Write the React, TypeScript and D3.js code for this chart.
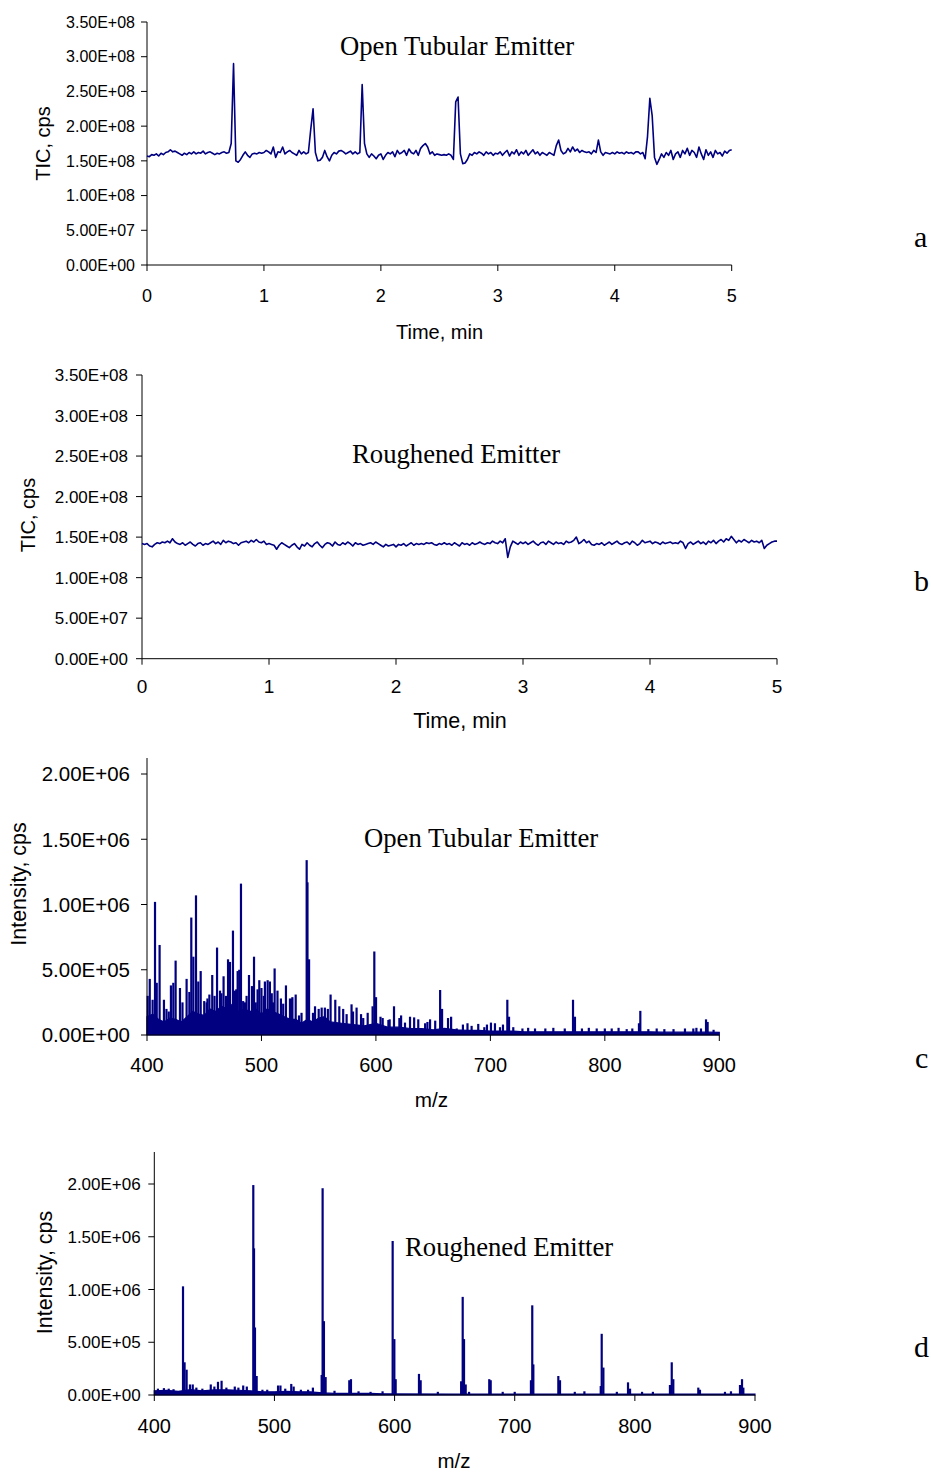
import React from "react";
import * as d3 from "d3";

const NAVY = "#000080";
const SANS = "'Liberation Sans', Arial, sans-serif";
const SERIF = "'Liberation Serif', 'Times New Roman', serif";

// ---------- TIC traces (units of 1e6 cps), one scan every 0.02 min ----------
const ticTimeStep = 0.02;
const ticOpenTubular = [
  157,156,159,158,160,157,161,159,162,163,
  166,163,164,162,160,158,161,159,162,160,
  163,160,162,161,164,160,162,163,161,159,
  161,160,162,163,161,162,175,290,150,148,
  152,158,163,158,155,160,161,160,162,161,
  162,165,163,160,170,155,163,162,170,160,
  163,165,162,160,158,165,160,163,160,162,
  195,225,162,150,151,155,165,156,150,158,
  162,160,164,165,163,160,162,164,160,163,
  160,162,260,175,160,155,160,157,153,158,
  160,152,158,162,160,163,156,165,160,162,
  165,158,167,162,160,165,158,168,172,175,
  170,160,163,158,160,159,158,159,158,160,
  158,152,235,242,160,146,147,152,160,158,
  162,160,163,161,158,163,160,162,158,161,
  160,163,158,162,165,157,163,160,166,158,
  163,160,165,158,162,166,160,163,158,162,
  160,158,162,160,158,172,180,165,160,162,
  168,163,170,164,167,162,165,163,162,163,
  160,165,162,180,163,158,162,161,160,162,
  160,163,161,162,160,163,161,162,160,163,
  163,160,162,153,185,240,215,155,145,152,
  160,155,162,158,165,152,160,163,155,165,
  160,168,158,165,162,155,170,160,152,166,
  158,163,155,165,160,162,157,164,161,165,
  166,
];
const ticRoughened = [
  142,141,142,139,138,141,143,142,144,143,
  145,143,148,144,142,141,143,140,142,144,
  141,139,142,143,140,142,141,143,145,142,
  144,141,146,143,145,144,142,143,140,143,
  144,145,143,146,144,147,144,143,145,141,
  142,141,140,135,140,143,141,139,137,140,
  142,138,135,141,139,143,140,138,142,144,
  140,137,141,143,142,139,144,141,140,143,
  141,144,142,139,143,141,142,140,141,142,
  143,141,144,142,140,138,141,139,140,141,
  138,141,140,142,139,141,143,140,142,141,
  142,141,143,142,143,141,140,142,141,143,
  141,142,140,143,141,139,143,141,142,140,
  143,141,142,144,142,141,143,142,145,143,
  142,145,143,148,125,138,145,143,141,144,
  142,144,141,143,145,142,140,143,144,141,
  145,143,141,144,142,143,141,145,143,144,
  146,150,142,144,147,143,145,141,140,142,
  141,143,140,142,144,141,143,145,142,141,
  143,144,141,145,143,140,142,146,143,144,
  145,142,144,143,141,144,142,143,144,142,
  143,142,145,143,136,142,144,141,143,145,
  142,144,141,145,143,146,142,145,147,144,
  148,146,151,147,143,146,144,147,145,143,
  146,144,145,143,146,136,140,142,144,145,
  145,
];

// ---------- Mass spectra (intensities in units of 1e4 cps) ----------
const openPeakMz = [
  400.6,402.4,404.9,407,408.5,411,414.8,420.9,423,425,428.8,434.6,437,438.7,440.5,442.8,444.8,446.9,
  452.1,454.5,457,461.2,463.8,466.9,470.8,472.5,475.1,476.9,479.2,480.6,482.1,485.6,489.1,491.7,493.5,
  496.6,498.1,503,505.4,507.4,511.5,514,521.4,524.9,526.7,529.9,532.8,539.5,540.2,541.6,546.8,552.6,
  555.4,560.4,564.5,571.4,574.4,578.7,583.1,588.9,592.8,597.1,598.6,600.1,605.9,610.9,615.8,620.5,
  625.4,629.8,633.4,643,647.3,651.8,656.1,657.8,665.7,670.6,683.6,689.4,694.7,700.5,708.4,714.8,716.3,
  739,772.2,773.9,792.9,806,819.1,829.8,831,845.3,877.3,888.4,889.8,
  417,419,431,450,452.8,459,465,469,478,484,487,495,500,502,509,510,517,519,527,535,545,550,558,568,
  580,587,604,612,622,637,645,663,676,680,697,704,711,720,728,733,748,755,765,780,786,800,812,824,
  838,852,860,870,880,884,895,
];
const openPeakInt = [
  30,43,27,102,40,69,27,38,40,57,36,43,33,90,60,107,41,49,
  25,31,46,67,34,45,58,56,80,34,49,50,116,25,46,37.5,60,
  35,42,41,42,41,51,34,38,28,28,31,15,134,117,58,22,21,
  21,31,27,20,16,23.5,21,13,17,22,64,29,13,11.5,22,13,
  9.5,14,13.5,9,12,11,34.5,20,14,5,7,8.5,6,9.5,6,27,14,
  5,27,14,5,5,4.5,9,18.5,5,5,12,10,
  20,18,25,26,28,30,32,30,35,26,30,25,36,30,32,25,28,24,29,17,17,20,20,22,
  18,16,14,12,15,12,10,13,8,9,8,9,8,6,5,5.5,5,5.5,5,5,5.5,5,5.5,5,
  4.5,4.5,4.5,5,5.5,5,4,
];
const openNoiseMz = [
  400,405,410,415,420,425,430,435,440,445,450,455,460,465,470,475,480,485,490,495,500,505,510,515,520,
  525,530,535,540,545,550,555,560,570,580,590,600,610,620,630,640,650,660,670,680,690,700,710,720,730,
  740,750,760,770,780,790,800,810,820,830,840,850,860,870,880,890,900,
];
const openNoiseLevel = [
  14,16,12,10,13,12,10,14,18,16,15,20,18,22,20,24,18,20,18,20,16,20,18,16,14,
  12,12,9,12,10,13,14,10,9,8,7,9,6,6,5,5,4,5,4,3.5,3.5,3,3,3,2.5,
  2.5,2.5,2.5,2.5,2.5,2.5,2.5,2.5,2.5,2.5,2.5,2.2,2.2,2.2,2.2,2.2,2,
];

const roughPeakMz = [
  423.9,425.2,426.9,429.7,482.4,483,483.8,485.2,539.3,540.1,541.2,542.6,562.3,563.7,598.4,599.8,600.9,
  620.3,621.7,655.4,656.7,657.8,659.2,678.8,680,713.5,714.6,715.5,736.3,737.7,771.6,772.4,773.8,794.3,
  796,829.2,830.7,832,852.8,854.2,887.5,889.2,890.3,
  403,408,412,416,432,435,440,447,450,453,456,460,467,470,474,477,490,494,503,505,509,514,516,522,528,
  532,550,570,580,590,636,662,690,700,750,758,785,806,815,875,880,
];
const roughPeakInt = [
  103,31,24,10,199,139,64,18,19,196,70,17,14,15,146,53,15,
  20,14,13,93,53,10,15,14,14,85,29,18,14,8.5,58,26,12,
  6,9.5,31,15,7,5,9.5,15,7,
  6,6.5,6,5.5,10,7,6,10,8,12.5,13.5,7,8,7,9,8,5,5,9,9,6,10.5,8,5,5,
  7,4,3.5,3,3.5,3,3,3,3,3,3.5,3,3,3,3,3.5,
];
const roughNoiseMz = [
  400,410,420,430,440,450,460,470,480,490,500,510,520,530,540,550,560,570,580,590,600,650,700,750,800,850,900,
];
const roughNoiseLevel = [
  4,4.5,3.5,5,4,5,5,4.5,4,3,3,3.5,3,3,2,1.5,1.5,1.5,1.5,1.2,1,0.8,0.8,0.8,0.8,0.8,0.8,
];

// ---------- Tick values ----------
const ticYTicks = [0, 5e7, 1e8, 1.5e8, 2e8, 2.5e8, 3e8, 3.5e8];
const timeXTicks = [0, 1, 2, 3, 4, 5];
const intYTicks = [0, 5e5, 1e6, 1.5e6, 2e6];
const mzXTicks = [400, 500, 600, 700, 800, 900];

function fmtE(v: number): string {
  const s = d3.format(".2e")(v);
  const [m, e] = s.split("e");
  const sign = e[0] === "-" ? "-" : "+";
  const digits = e.replace(/^[+-]/, "").padStart(2, "0");
  return `${m}E${sign}${digits}`;
}

type AxesProps = {
  x: d3.ScaleLinear<number, number>;
  y: d3.ScaleLinear<number, number>;
  axisTop: number;
  xTicks: number[];
  yTicks: number[];
  yFont: number;
  yLabelRight: number;
  xFont: number;
  xLabelBase: number;
  xTitle: string;
  xTitleFont: number;
  xTitleX: number;
  xTitleBase: number;
  yTitle: string;
  yTitleFont: number;
  yTitleBase: number;
  yTitleCenter: number;
  title: string;
  titleX: number;
  titleBase: number;
  letter: string;
  letterX: number;
  letterBase: number;
};

function Axes(p: AxesProps) {
  const [x0, x1] = p.x.range();
  const y0 = p.y(0);
  return (
    <g>
      <line x1={x0} x2={x0} y1={p.axisTop} y2={y0} stroke="#000" strokeWidth={1} />
      <line x1={x0} x2={x1} y1={y0} y2={y0} stroke="#000" strokeWidth={1} />
      {p.yTicks.map((t) => (
        <g key={"y" + t}>
          <line x1={x0 - 6} x2={x0} y1={p.y(t)} y2={p.y(t)} stroke="#000" strokeWidth={1} />
          <text x={p.yLabelRight} y={p.y(t) + p.yFont * 0.36} textAnchor="end"
            fontFamily={SANS} fontSize={p.yFont} fill="#000">{fmtE(t)}</text>
        </g>
      ))}
      {p.xTicks.map((t) => (
        <g key={"x" + t}>
          <line x1={p.x(t)} x2={p.x(t)} y1={y0} y2={y0 + 6} stroke="#000" strokeWidth={1} />
          <text x={p.x(t)} y={p.xLabelBase} textAnchor="middle"
            fontFamily={SANS} fontSize={p.xFont} fill="#000">{t}</text>
        </g>
      ))}
      <text x={p.xTitleX} y={p.xTitleBase} textAnchor="middle" fontFamily={SANS}
        fontSize={p.xTitleFont} fill="#000">{p.xTitle}</text>
      <text transform={`translate(${p.yTitleBase},${p.yTitleCenter}) rotate(-90)`} textAnchor="middle"
        fontFamily={SANS} fontSize={p.yTitleFont} fill="#000">{p.yTitle}</text>
      <text x={p.titleX} y={p.titleBase} fontFamily={SERIF} fontSize={26.7} fill="#000">{p.title}</text>
      <text x={p.letterX} y={p.letterBase} fontFamily={SERIF} fontSize={30} fill="#000">{p.letter}</text>
    </g>
  );
}

function TicPanel(props: {
  data: number[]; left: number; right: number; top: number; bottom: number;
  rest: Omit<AxesProps, "x" | "y" | "axisTop" | "xTicks" | "yTicks">;
}) {
  const x = d3.scaleLinear().domain([0, 5]).range([props.left, props.right]);
  const y = d3.scaleLinear().domain([0, 3.5e8]).range([props.bottom, props.top]);
  const line = d3.line<number>()
    .x((_, i) => x(i * ticTimeStep))
    .y((d) => y(d * 1e6));
  return (
    <g>
      <Axes x={x} y={y} axisTop={props.top} xTicks={timeXTicks} yTicks={ticYTicks} {...props.rest} />
      <path d={line(props.data) || ""} fill="none" stroke={NAVY} strokeWidth={1.6} strokeLinejoin="round" />
    </g>
  );
}

function SpecPanel(props: {
  peakMz: number[]; peakInt: number[]; noiseMz: number[]; noiseLevel: number[];
  left: number; right: number; yZero: number; yTwo: number; axisTop: number; stroke: number;
  rest: Omit<AxesProps, "x" | "y" | "axisTop" | "xTicks" | "yTicks">;
}) {
  const x = d3.scaleLinear().domain([400, 900]).range([props.left, props.right]);
  const y = d3.scaleLinear().domain([0, 2e6]).range([props.yZero, props.yTwo]);
  const area = d3.area<number>()
    .x((_, i) => x(props.noiseMz[i]))
    .y0(y(0))
    .y1((d) => y(d * 1e4));
  return (
    <g>
      <path d={area(props.noiseLevel) || ""} fill={NAVY} stroke={NAVY} strokeWidth={1.2} />
      {props.peakMz.map((m, i) => (
        <line key={i} x1={x(m)} x2={x(m)} y1={y(0)} y2={y(props.peakInt[i] * 1e4)}
          stroke={NAVY} strokeWidth={props.stroke} />
      ))}
      <Axes x={x} y={y} axisTop={props.axisTop} xTicks={mzXTicks} yTicks={intYTicks} {...props.rest} />
    </g>
  );
}

export default function App() {
  return (
    <svg width={931} height={1473} style={{ position: "absolute", left: 0, top: 0, background: "#fff" }}>
      <rect width={931} height={1473} fill="#fff" />
      <TicPanel data={ticOpenTubular} left={147} right={731.7} top={22} bottom={265}
        rest={{
          yFont: 16, yLabelRight: 135, xFont: 18, xLabelBase: 301.5,
          xTitle: "Time, min", xTitleFont: 20, xTitleX: 439.5, xTitleBase: 339,
          yTitle: "TIC, cps", yTitleFont: 20, yTitleBase: 50, yTitleCenter: 143.5,
          title: "Open Tubular Emitter", titleX: 340, titleBase: 55,
          letter: "a", letterX: 914, letterBase: 247,
        }} />
      <TicPanel data={ticRoughened} left={142} right={777} top={375} bottom={658.7}
        rest={{
          yFont: 17, yLabelRight: 128, xFont: 19, xLabelBase: 693,
          xTitle: "Time, min", xTitleFont: 21.5, xTitleX: 460, xTitleBase: 728,
          yTitle: "TIC, cps", yTitleFont: 20, yTitleBase: 35, yTitleCenter: 515,
          title: "Roughened Emitter", titleX: 352, titleBase: 463,
          letter: "b", letterX: 914, letterBase: 591,
        }} />
      <SpecPanel peakMz={openPeakMz} peakInt={openPeakInt} noiseMz={openNoiseMz} noiseLevel={openNoiseLevel}
        left={147} right={719.3} yZero={1035} yTwo={774} axisTop={758} stroke={2.2}
        rest={{
          yFont: 20.5, yLabelRight: 130, xFont: 20, xLabelBase: 1072,
          xTitle: "m/z", xTitleFont: 20.7, xTitleX: 431.5, xTitleBase: 1107,
          yTitle: "Intensity, cps", yTitleFont: 21.4, yTitleBase: 25.5, yTitleCenter: 884,
          title: "Open Tubular Emitter", titleX: 364, titleBase: 847,
          letter: "c", letterX: 915, letterBase: 1068,
        }} />
      <SpecPanel peakMz={roughPeakMz} peakInt={roughPeakInt} noiseMz={roughNoiseMz} noiseLevel={roughNoiseLevel}
        left={154.3} right={755} yZero={1395} yTwo={1184} axisTop={1152} stroke={2.2}
        rest={{
          yFont: 17, yLabelRight: 140.7, xFont: 20, xLabelBase: 1433,
          xTitle: "m/z", xTitleFont: 20.5, xTitleX: 454, xTitleBase: 1468,
          yTitle: "Intensity, cps", yTitleFont: 21.4, yTitleBase: 52, yTitleCenter: 1272.5,
          title: "Roughened Emitter", titleX: 405, titleBase: 1256,
          letter: "d", letterX: 914, letterBase: 1357,
        }} />
    </svg>
  );
}
